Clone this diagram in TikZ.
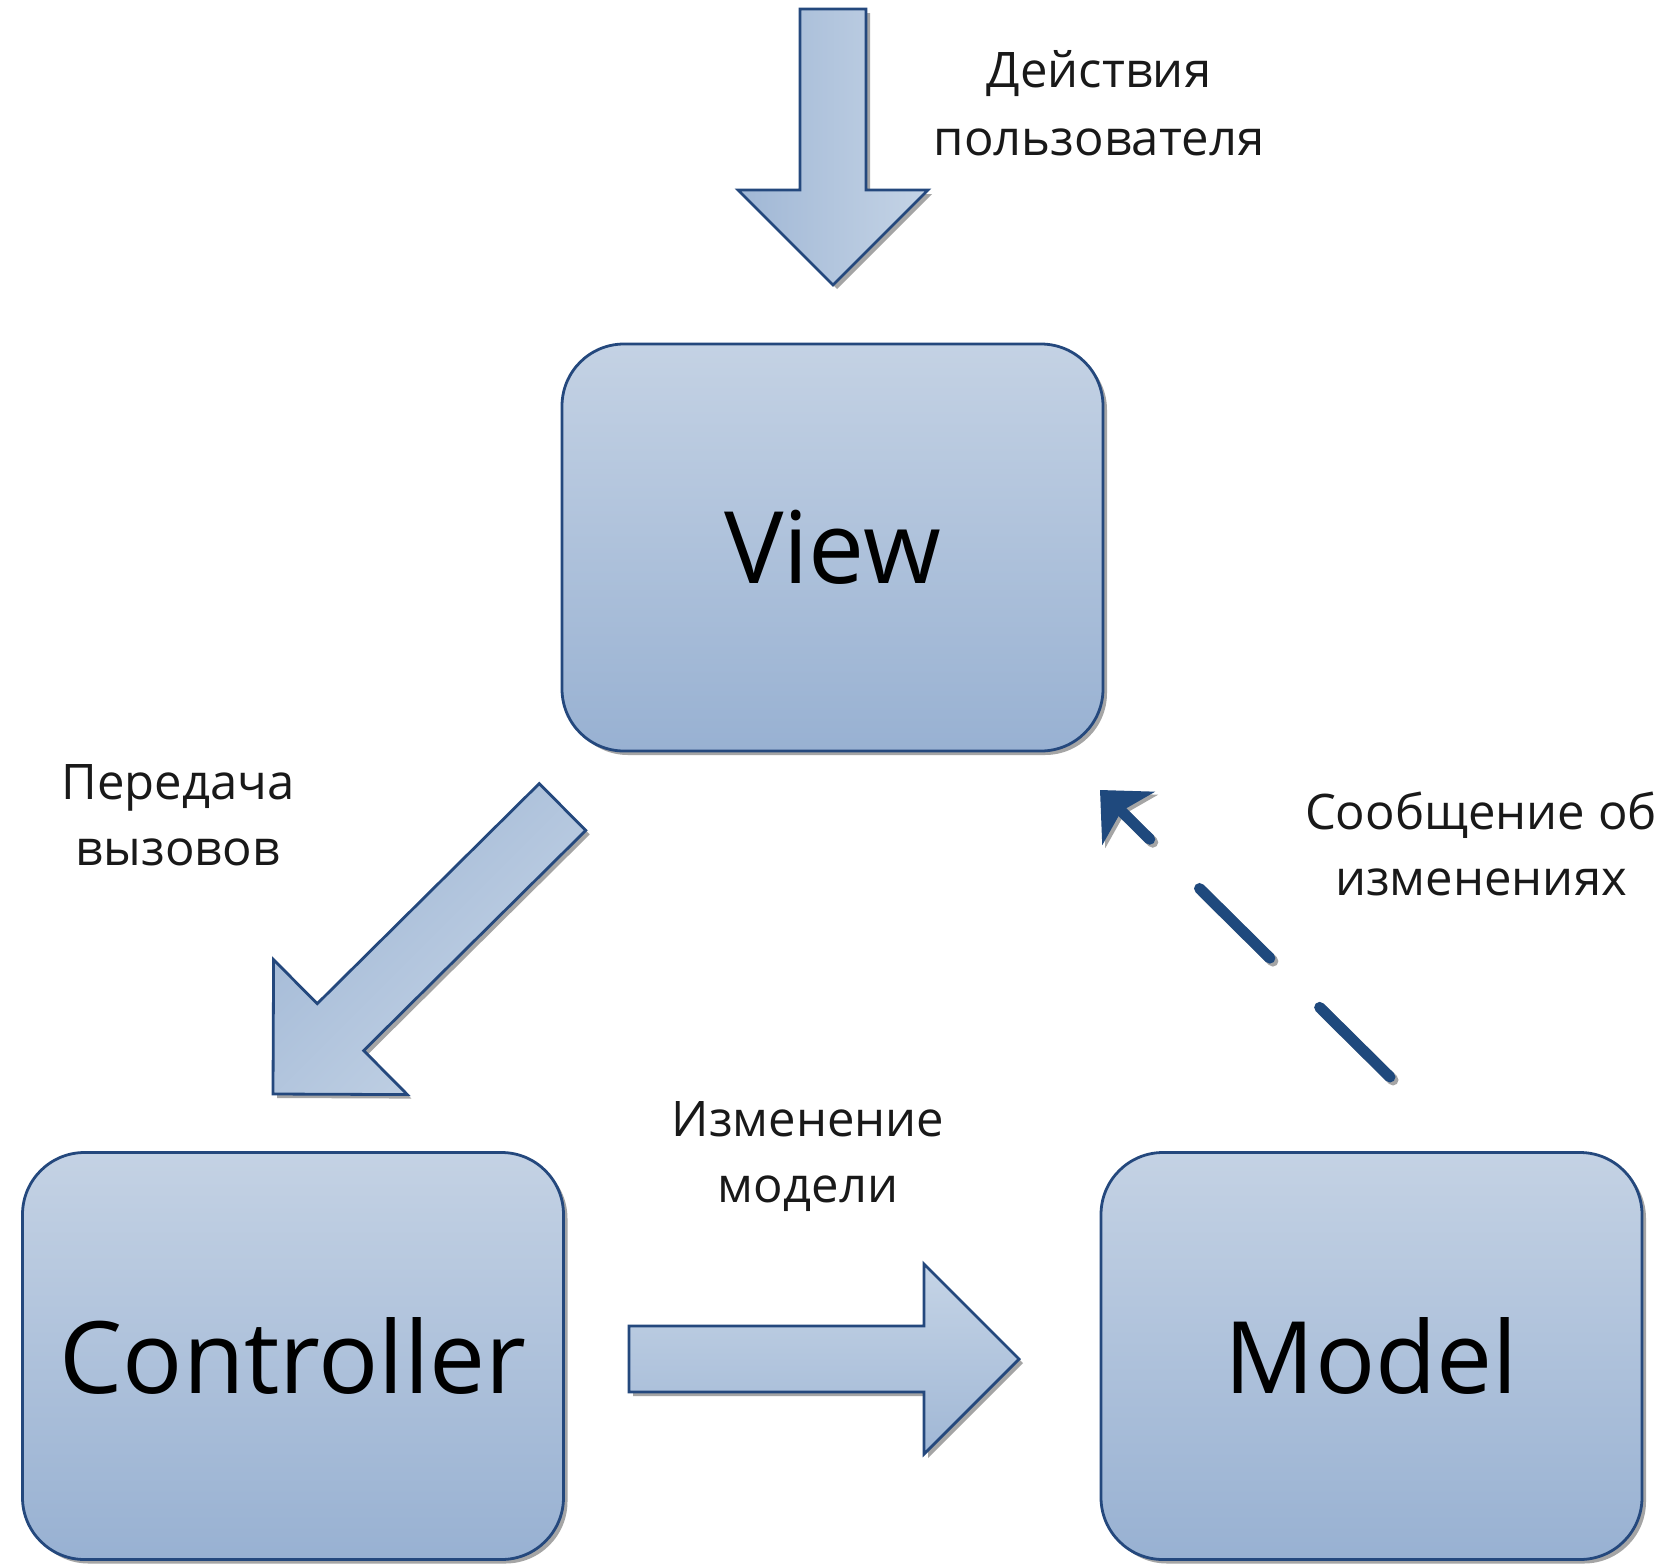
\documentclass[tikz,border=0pt]{standalone}
\usepackage{fontspec}
\setmainfont{Open Sans}
\usetikzlibrary{arrows.meta,calc,shadows}
\definecolor{boxtop}{RGB}{196,210,228}
\definecolor{boxbot}{RGB}{152,177,210}
\definecolor{arrlight}{RGB}{197,212,230}
\definecolor{arrdark}{RGB}{160,183,213}
\definecolor{edgec}{RGB}{36,72,125}
\definecolor{dashc}{RGB}{31,73,125}
\definecolor{shadowc}{RGB}{165,165,165}
\tikzset{
  myshadow/.style={drop shadow={shadow xshift=4pt, shadow yshift=-4pt, fill=shadowc, opacity=1}},
  mvcbox/.style={draw=edgec, line width=2.8pt, rounded corners=62pt,
    top color=boxtop, bottom color=boxbot, minimum width=541pt, minimum height=407pt,
    inner sep=0pt, font=\fontsize{100}{120}\selectfont, text=black, myshadow},
  blockarrow/.style={draw=edgec, line width=2.8pt, line join=miter,
    top color=arrlight, bottom color=arrdark, myshadow},
  lbl/.style={font=\fontsize{49}{68}\selectfont, text=black!90, inner sep=0pt, anchor=base},
  notify/.style={line width=11pt, line cap=round, draw=dashc,
    dash pattern=on 99pt off 70pt,
    -{Stealth[length=40pt,width=74pt,inset=10pt]}},
  notifyshadow/.style={line width=11pt, line cap=round, draw=shadowc,
    dash pattern=on 99pt off 70pt,
    -{Stealth[length=40pt,width=74pt,inset=10pt]},
    transform canvas={xshift=3pt,yshift=-3pt}}
}
\newcommand\blockarr[3]{%
  \coordinate (#2-h) at ($(#2)!95pt!(#1)$);
  \path[blockarrow, shading angle=#3]
    ($(#1)!33pt!90:(#2)$) -- ($(#2-h)!33pt!90:(#2)$) -- ($(#2-h)!95pt!90:(#2)$)
    -- (#2) -- ($(#2-h)!95pt!-90:(#2)$) -- ($(#2-h)!33pt!-90:(#2)$)
    -- ($(#1)!33pt!-90:(#2)$) -- cycle;
}
\begin{document}
\begin{tikzpicture}[x=1pt,y=-1pt]
  \fill[white] (0,0) rectangle (1671,1566);
  \useasboundingbox (0,0) rectangle (1671,1566);

  % boxes
  \node[mvcbox] (view) at (832.5,547.5) {View};
  \node[mvcbox] (ctrl) at (293,1356) {Controller};
  \node[mvcbox] (model) at (1371.5,1356) {Model};

  % block arrows
  \coordinate (uTail) at (833,9);
  \coordinate (uTip) at (833,285);
  \blockarr{uTail}{uTip}{-90}

  \coordinate (cTail) at (562.5,807);
  \coordinate (cTip) at (273,1094);
  \blockarr{cTail}{cTip}{225}

  \coordinate (mTail) at (629,1359);
  \coordinate (mTip) at (1019,1359);
  \blockarr{mTail}{mTip}{0}

  % dashed notification arrow
  \coordinate (nStart) at (1390,1077);
  \coordinate (nEnd) at (1100,790);
  \draw[notifyshadow] (nStart) -- (nEnd);
  \draw[notify] (nStart) -- (nEnd);

  % labels
  \node[lbl] (l1a) at (1099,87) {Действия};
  \node[lbl] (l1b) at (1099,155) {пользователя};
  \node[lbl] (l2a) at (178,799) {Передача};
  \node[lbl] (l2b) at (178,865) {вызовов};
  \node[lbl] (l3a) at (1481,829) {Сообщение об};
  \node[lbl] (l3b) at (1481,895) {изменениях};
  \node[lbl] (l4a) at (808,1136) {Изменение};
  \node[lbl] (l4b) at (808,1202) {модели};
\end{tikzpicture}
\end{document}
